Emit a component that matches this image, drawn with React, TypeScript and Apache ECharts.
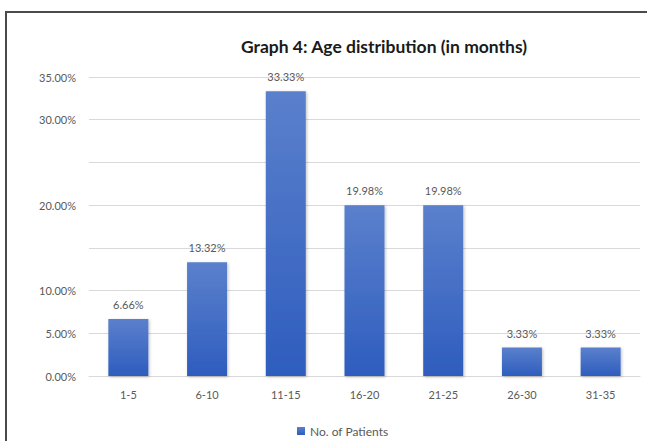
import React, { useEffect, useRef } from "react";
import * as echarts from "echarts";

const categories = ["1-5", "6-10", "11-15", "16-20", "21-25", "26-30", "31-35"];
const patientShare = [6.66, 13.32, 33.33, 19.98, 19.98, 3.33, 3.33];
const hiddenTicks = [15, 25];

const FONT = "Lato, 'Open Sans', sans-serif";
const TEXT = "#595959";

export default function App() {
  const ref = useRef<HTMLDivElement>(null);

  useEffect(() => {
    if (!ref.current) return;
    const chart = echarts.init(ref.current, undefined, { renderer: "svg" });
    const barFill = new echarts.graphic.LinearGradient(0, 0, 0, 1, [
      { offset: 0, color: "#5b80cc" },
      { offset: 1, color: "#2e5dbe" },
    ]);
    chart.setOption({
      animation: false,
      backgroundColor: "#ffffff",
      textStyle: { fontFamily: FONT },
      title: {
        text: "Graph 4: Age distribution (in months)",
        left: 379,
        textAlign: "center",
        top: 32,
        textStyle: { fontFamily: FONT, fontSize: 17.5, fontWeight: "bold", color: "#1a1a1a" },
      },
      graphic: [
        {
          type: "polyline",
          shape: { points: [[6, 441], [6, 12], [647, 12]] },
          style: { stroke: "#4a4a4a", lineWidth: 2, fill: "none" },
        },
      ],
      legend: {
        data: ["No. of Patients"],
        left: 292,
        top: 420,
        itemWidth: 8,
        itemHeight: 8,
        itemGap: 4,
        icon: "rect",
        textStyle: { fontFamily: FONT, fontSize: 12, color: TEXT },
      },
      grid: { left: 89, right: 7, top: 77, bottom: 65, containLabel: false },
      xAxis: {
        type: "category",
        data: categories,
        axisLine: { show: true, lineStyle: { color: "#d9d9d9" } },
        axisTick: { show: false },
        axisLabel: { color: TEXT, fontFamily: FONT, fontSize: 11, margin: 13 },
      },
      yAxis: {
        type: "value",
        min: 0,
        max: 35,
        interval: 5,
        axisLine: { show: false },
        axisTick: { show: false },
        splitLine: { lineStyle: { color: "#d9d9d9", width: 1 } },
        axisLabel: {
          color: TEXT,
          fontFamily: FONT,
          fontSize: 11,
          margin: 13,
          formatter: (v: number) => (hiddenTicks.includes(v) ? "" : v.toFixed(2) + "%"),
        },
      },
      series: [
        {
          name: "No. of Patients",
          type: "bar",
          data: patientShare,
          barWidth: 40,
          itemStyle: {
            color: barFill,
            shadowColor: "rgba(0,0,0,0.25)",
            shadowBlur: 3,
            shadowOffsetX: 1,
            shadowOffsetY: 1,
          },
          label: {
            show: true,
            position: "top",
            distance: 9,
            color: TEXT,
            fontFamily: FONT,
            fontSize: 11,
            formatter: (p: any) => Number(p.value).toFixed(2) + "%",
          },
        },
      ],
    });
    return () => chart.dispose();
  }, []);

  return (
    <div
      ref={ref}
      style={{ position: "fixed", left: 0, top: 0, width: 647, height: 441 }}
    />
  );
}
